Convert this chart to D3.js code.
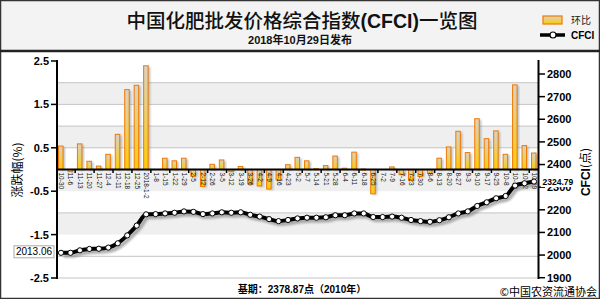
<!DOCTYPE html>
<html>
<head>
<meta charset="utf-8">
<script src="https://cdn.jsdelivr.net/npm/d3@7"></script>
<style>
  body { margin: 0; background: #fff; }
  svg { display: block; font-family: "Liberation Sans", Arial, "Noto Sans CJK SC", sans-serif; }
</style>
</head>
<body>
<div id="chart"></div>
<script>
// 周期（每周一）
const categories = ["10-30","11-6","11-13","11-20","11-27","12-4","12-11","12-18","12-25","2018-1-2",
  "1-8","1-15","1-22","1-29","2-5","2-12","2-26","3-5","3-12","3-19","3-26","4-2","4-9","4-16","4-23",
  "5-2","5-7","5-14","5-21","5-28","6-4","6-11","6-18","6-25","7-2","7-9","7-16","7-23","7-30",
  "8-6","8-13","8-20","8-27","9-3","9-10","9-17","9-25","10-8","10-15","10-22","10-29"];

// 环比涨跌幅 (%)
const changeValues = [0.54,-0.05,0.59,0.19,0.08,0.35,0.81,1.84,1.94,2.39,
  0,0.26,0.20,0.26,-0.16,-0.39,0.12,0.22,-0.05,0.07,-0.33,-0.38,-0.45,-0.24,0.11,
  0.28,0.20,0.02,0.09,0.31,0.03,0.40,0.01,-0.56,0,0.06,-0.12,-0.25,-0.16,
  -0.09,0.26,0.52,0.88,0.39,1.17,0.71,0.89,0.35,1.95,0.55,0.38];

// CFCI 指数 (点)
const cfciValues = [2010,2010,2021,2027,2028,2033,2052,2087,2130,2180,
  2181,2184,2187,2193,2191,2181,2184,2189,2187,2189,2178,2170,2159,2150,2155,
  2162,2165,2165,2167,2176,2176,2184,2184,2168,2168,2170,2165,2155,2150,
  2147,2154,2167,2184,2193,2217,2233,2251,2261,2307,2317,2324.79];

const leftTicks = [2.5, 1.5, 0.5, -0.5, -1.5, -2.5];
const rightTicks = [1900, 2000, 2100, 2200, 2300, 2400, 2500, 2600, 2700, 2800];
const grayBands = [[2, 1.5], [1, 0.5], [0, -0.5], [-1, -1.5]];
const gridLevels = [2, 1.5, 1, 0.5, -1, -2, -2.5];

const width = 600, height = 299;

const svg = d3.select("#chart").append("svg")
  .attr("width", width)
  .attr("height", height);

const defs = svg.append("defs");
const grad = defs.append("linearGradient")
  .attr("id", "barGrad")
  .attr("x1", 0).attr("y1", 0).attr("x2", 0).attr("y2", 1);
grad.append("stop").attr("offset", "0%").attr("stop-color", "#d6d2cc");
grad.append("stop").attr("offset", "100%").attr("stop-color", "#ffcc00");

const blur = defs.append("filter").attr("id", "blur")
  .attr("x", "-20%").attr("y", "-20%").attr("width", "140%").attr("height", "140%");
blur.append("feGaussianBlur").attr("stdDeviation", 1.2);

// 比例尺
const x = d3.scalePoint().domain(categories).range([61, 534]);
const yL = d3.scaleLinear().domain([-2.5, 2.5]).range([278, 61]);
const yR = d3.scaleLinear().domain([1900, 2800]).range([277.7, 74]);

// 背景 / 表头
svg.append("rect").attr("x", 0).attr("y", 0).attr("width", width).attr("height", 50)
  .attr("fill", "#f3f3f3");
svg.append("rect").attr("x", 0.5).attr("y", 0.5).attr("width", width - 1).attr("height", height - 1)
  .attr("fill", "none").attr("stroke", "#333").attr("stroke-width", 1.5);
svg.append("line").attr("x1", 0).attr("x2", width).attr("y1", 51).attr("y2", 51)
  .attr("stroke", "#222").attr("stroke-width", 2.5);

svg.append("text")
  .attr("x", 302).attr("y", 28)
  .attr("text-anchor", "middle")
  .style("font-family", "'Noto Sans CJK SC', sans-serif")
  .style("font-size", "19.5px")
  .style("font-weight", 500)
  .attr("fill", "#111")
  .html("中国化肥批发价格综合指数<tspan font-weight='bold' font-family='Liberation Sans, Arial'>(CFCI)</tspan>一览图");

svg.append("text")
  .attr("x", 300).attr("y", 44)
  .attr("text-anchor", "middle")
  .style("font-size", "11px").style("font-weight", "bold")
  .attr("fill", "#111")
  .text("2018年10月29日发布");

// 图例
svg.append("rect").attr("x", 543).attr("y", 16).attr("width", 19).attr("height", 8)
  .attr("fill", "url(#barGrad)").attr("stroke", "#f07800").attr("stroke-width", 1.2);
svg.append("text").attr("x", 571).attr("y", 24)
  .style("font-size", "10px").attr("fill", "#222")
  .style("font-family", "'Noto Sans CJK SC', sans-serif").text("环比");
svg.append("line").attr("x1", 540).attr("x2", 565).attr("y1", 35).attr("y2", 35)
  .attr("stroke", "#000").attr("stroke-width", 3.5);
svg.append("circle").attr("cx", 553).attr("cy", 35).attr("r", 3)
  .attr("fill", "#fff").attr("stroke", "#000").attr("stroke-width", 1.2);
svg.append("text").attr("x", 571).attr("y", 39)
  .style("font-size", "10px").style("font-weight", "bold").attr("fill", "#000").text("CFCI");

// 灰色色带和网格线
svg.append("g").selectAll("rect")
  .data(grayBands)
  .join("rect")
  .attr("x", 57).attr("width", 481)
  .attr("y", d => yL(d[0]))
  .attr("height", d => yL(d[1]) - yL(d[0]))
  .attr("fill", "#efefef");

svg.append("g").selectAll("line")
  .data(gridLevels)
  .join("line")
  .attr("x1", 57).attr("x2", 538)
  .attr("y1", d => yL(d)).attr("y2", d => yL(d))
  .attr("stroke", "#c4c4c4").attr("stroke-width", 1);

// 柱子
const data = categories.map((c, i) => ({ cat: c, change: changeValues[i], cfci: cfciValues[i] }));
const bw = 4.5;

const bars = svg.append("g");
bars.selectAll(".shadow")
  .data(data.filter(d => d.change !== 0))
  .join("rect")
  .attr("class", "shadow")
  .attr("x", d => x(d.cat) - 2.5 + 2)
  .attr("y", d => Math.min(yL(d.change), yL(0)) + 1)
  .attr("width", bw)
  .attr("height", d => Math.abs(yL(d.change) - yL(0)))
  .attr("fill", "#888").attr("opacity", 0.55)
  .attr("filter", "url(#blur)");

bars.selectAll(".bar")
  .data(data.filter(d => d.change !== 0))
  .join("rect")
  .attr("class", "bar")
  .attr("x", d => x(d.cat) - 2.5)
  .attr("y", d => Math.min(yL(d.change), yL(0)))
  .attr("width", bw)
  .attr("height", d => Math.max(1, Math.abs(yL(d.change) - yL(0))))
  .attr("fill", "url(#barGrad)")
  .attr("stroke", "#f07800").attr("stroke-width", 1);

// 零线和小刻度
svg.append("line").attr("x1", 57).attr("x2", 538)
  .attr("y1", yL(0)).attr("y2", yL(0))
  .attr("stroke", "#000").attr("stroke-width", 2);

const minorTicks = d3.range(1, categories.length - 1, 2)
  .map(i => (x(categories[i]) + x(categories[i + 1])) / 2);
svg.append("g").selectAll("line")
  .data(minorTicks)
  .join("line")
  .attr("x1", d => d).attr("x2", d => d)
  .attr("y1", yL(0)).attr("y2", yL(0) + 3.5)
  .attr("stroke", "#000").attr("stroke-width", 1.5);

// x 轴标签
svg.append("g").selectAll("text")
  .data(categories)
  .join("text")
  .attr("transform", d => `translate(${x(d) - 2},${yL(0) + 3}) rotate(90)`)
  .style("font-size", "6.5px")
  .attr("fill", "#111")
  .text(d => d);

// CFCI 折线
const line = d3.line()
  .x(d => x(d.cat))
  .y(d => yR(d.cfci))
  .curve(d3.curveMonotoneX);

svg.append("path")
  .datum(data)
  .attr("d", line)
  .attr("transform", "translate(2.5,3)")
  .attr("fill", "none")
  .attr("stroke", "#777").attr("stroke-width", 4).attr("opacity", 0.6)
  .attr("filter", "url(#blur)");

svg.append("path")
  .datum(data)
  .attr("d", line)
  .attr("fill", "none")
  .attr("stroke", "#000").attr("stroke-width", 4);

svg.append("g").selectAll("circle")
  .data(data)
  .join("circle")
  .attr("cx", d => x(d.cat))
  .attr("cy", d => yR(d.cfci))
  .attr("r", 2.6)
  .attr("fill", "#fff").attr("stroke", "#000").attr("stroke-width", 1);

// 左轴
const leftAxis = svg.append("g");
leftAxis.append("line").attr("x1", 57).attr("x2", 57).attr("y1", 60).attr("y2", 279)
  .attr("stroke", "#000").attr("stroke-width", 2);
leftAxis.selectAll(".tick")
  .data(leftTicks)
  .join("line")
  .attr("class", "tick")
  .attr("x1", 51).attr("x2", 57)
  .attr("y1", d => yL(d)).attr("y2", d => yL(d))
  .attr("stroke", "#000").attr("stroke-width", 1.5);
leftAxis.selectAll("text")
  .data(leftTicks)
  .join("text")
  .attr("x", 49).attr("y", d => yL(d))
  .attr("dy", "0.36em")
  .attr("text-anchor", "end")
  .style("font-size", "11px").style("font-weight", "bold")
  .text(d => d);

svg.append("text")
  .attr("transform", "translate(22,170) rotate(-90)")
  .attr("text-anchor", "middle")
  .style("font-size", "12px")
  .style("font-family", "'Noto Sans CJK SC', sans-serif")
  .text("涨跌幅(%)");

// 右轴
const rightAxis = svg.append("g");
rightAxis.append("line").attr("x1", 538.5).attr("x2", 538.5).attr("y1", 60).attr("y2", 279)
  .attr("stroke", "#000").attr("stroke-width", 2);
rightAxis.selectAll(".tick")
  .data(rightTicks)
  .join("line")
  .attr("class", "tick")
  .attr("x1", 539).attr("x2", 545)
  .attr("y1", d => yR(d)).attr("y2", d => yR(d))
  .attr("stroke", "#000").attr("stroke-width", 1.5);
rightAxis.selectAll("text")
  .data(rightTicks)
  .join("text")
  .attr("x", 547).attr("y", d => yR(d))
  .attr("dy", "0.36em")
  .style("font-size", "11px").style("font-weight", "bold")
  .text(d => d);

svg.append("text")
  .attr("transform", "translate(590,172) rotate(-90)")
  .attr("text-anchor", "middle")
  .style("font-size", "12px").style("font-weight", "bold")
  .html("CFCI<tspan font-weight='normal' font-family='Noto Sans CJK SC'>(点)</tspan>");

// 首尾数值标签
const first = data[0], last = data[data.length - 1];
const startLabel = svg.append("g").attr("transform", `translate(14,${yR(first.cfci) - 7})`);
startLabel.append("rect").attr("width", 40).attr("height", 12)
  .attr("fill", "#fff").attr("stroke", "#aaa").attr("stroke-width", 1);
startLabel.append("text").attr("x", 20).attr("y", 9.5).attr("text-anchor", "middle")
  .style("font-size", "10px").text("2013.06");

const endLabel = svg.append("g").attr("transform", `translate(541,${yR(last.cfci) - 4.5})`);
endLabel.append("rect").attr("width", 35).attr("height", 10)
  .attr("fill", "#fff");
endLabel.append("text").attr("x", 1.5).attr("y", 8.3)
  .style("font-size", "8.5px").style("font-weight", "bold")
  .text(last.cfci.toFixed(2));

// 底部
svg.append("text")
  .attr("x", 302).attr("y", 293)
  .attr("text-anchor", "middle")
  .style("font-size", "10px").style("font-weight", "bold")
  .text("基期：2378.87点（2010年）");

svg.append("text")
  .attr("x", 597).attr("y", 296)
  .attr("text-anchor", "end")
  .style("font-size", "11px")
  .style("font-family", "'Noto Sans CJK SC', sans-serif")
  .text("©中国农资流通协会");
</script>
</body>
</html>
